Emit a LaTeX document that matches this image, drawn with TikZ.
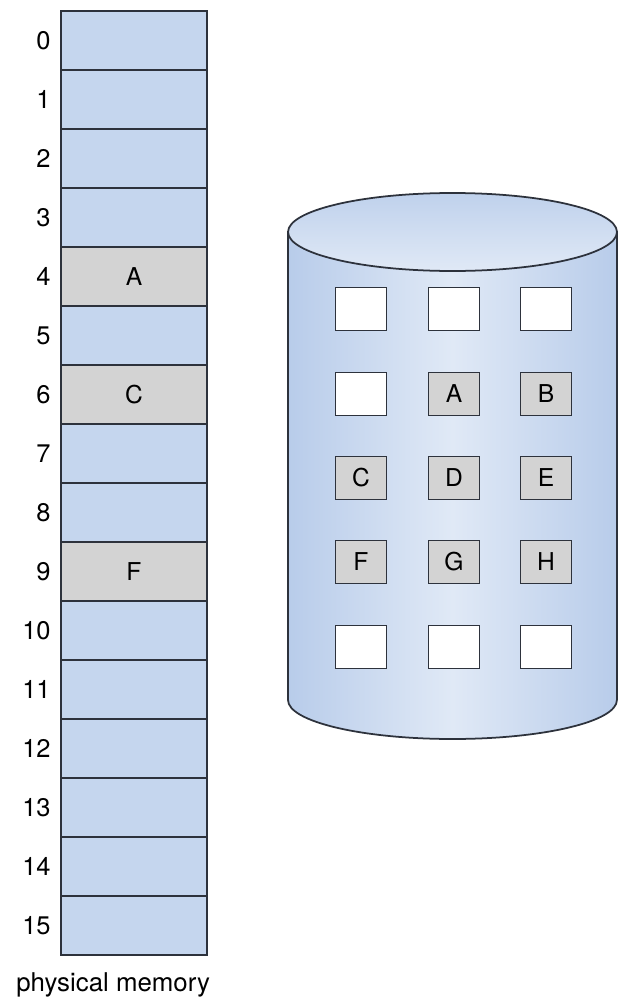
\documentclass[tikz,border=0pt]{standalone}
\usepackage{fontspec}
\setmainfont{TeX Gyre Heros}
\usepackage{xcolor}
\usepackage{tikz}
\usetikzlibrary{positioning}
\definecolor{memblue}{RGB}{197,214,238}
\definecolor{pagegray}{RGB}{211,211,211}
\definecolor{cyledge}{RGB}{184,204,234}
\definecolor{cylmid}{RGB}{224,233,246}
\definecolor{linegray}{RGB}{45,50,60}
\tikzset{
mem cell/.style = { rectangle, draw = linegray, line width = 1pt, fill = memblue, minimum width = 2.92cm, minimum height = 1.18cm, inner sep = 0pt, font = \fontsize{14}{16}\selectfont},
mem used/.style = { mem cell, fill = pagegray },
addr/.style = { anchor = east, inner sep = 0pt, font = \fontsize{14.5}{16}\selectfont },
disk page/.style = { rectangle, draw = linegray, line width = 1pt, fill = white, minimum width = 1.02cm, minimum height = 0.86cm, inner sep = 0pt, font = \fontsize{14}{16}\selectfont },
disk used/.style = { disk page, fill = pagegray },
}
\begin{document}
\begin{tikzpicture}[x = 0.02cm, y = -0.02cm]
      \useasboundingbox (0, 0) rectangle (624, 1007);
      % physical memory
      \node[mem cell] (m0)  at (134, 40.5) {};
      \node[mem cell] (m1)  at (134, 99.5) {};
      \node[mem cell] (m2)  at (134, 158.5) {};
      \node[mem cell] (m3)  at (134, 217.5) {};
      \node[mem used] (m4)  at (134, 276.5) {A};
      \node[mem cell] (m5)  at (134, 335.5) {};
      \node[mem used] (m6)  at (134, 394.5) {C};
      \node[mem cell] (m7)  at (134, 453.5) {};
      \node[mem cell] (m8)  at (134, 512.5) {};
      \node[mem used] (m9)  at (134, 571.5) {F};
      \node[mem cell] (m10) at (134, 630.5) {};
      \node[mem cell] (m11) at (134, 689.5) {};
      \node[mem cell] (m12) at (134, 748.5) {};
      \node[mem cell] (m13) at (134, 807.5) {};
      \node[mem cell] (m14) at (134, 866.5) {};
      \node[mem cell] (m15) at (134, 925.5) {};
      \node[addr] (a0)  at (51, 40.5) {0};
      \node[addr] (a1)  at (51, 99.5) {1};
      \node[addr] (a2)  at (51, 158.5) {2};
      \node[addr] (a3)  at (51, 217.5) {3};
      \node[addr] (a4)  at (51, 276.5) {4};
      \node[addr] (a5)  at (51, 335.5) {5};
      \node[addr] (a6)  at (51, 394.5) {6};
      \node[addr] (a7)  at (51, 453.5) {7};
      \node[addr] (a8)  at (51, 512.5) {8};
      \node[addr] (a9)  at (51, 571.5) {9};
      \node[addr] (a10) at (51, 630.5) {10};
      \node[addr] (a11) at (51, 689.5) {11};
      \node[addr] (a12) at (51, 748.5) {12};
      \node[addr] (a13) at (51, 807.5) {13};
      \node[addr] (a14) at (51, 866.5) {14};
      \node[addr] (a15) at (51, 925.5) {15};
      \node[anchor = west, inner sep = 0pt, font = \fontsize{14.7}{16}\selectfont] (memlabel) at (16, 985) {physical memory};
      % backing store
      \path[draw = linegray, line width = 1pt, left color = cyledge, right color = cyledge, middle color = cylmid, shading angle = 90]
        (288, 232) -- (288, 700) arc[start angle = 180, end angle = 360, x radius = 3.29cm, y radius = 0.78cm] -- (617, 232) -- cycle;
      \path[draw = linegray, line width = 1pt, top color = cyledge!90!white, bottom color = cylmid]
        (452.5, 232) ellipse[x radius = 3.29cm, y radius = 0.78cm];
      \node[disk page] (d1)  at (361, 309) {};
      \node[disk page] (d2)  at (454, 309) {};
      \node[disk page] (d3)  at (546, 309) {};
      \node[disk page] (d4)  at (361, 394) {};
      \node[disk used] (d5)  at (454, 394) {A};
      \node[disk used] (d6)  at (546, 394) {B};
      \node[disk used] (d7)  at (361, 478) {C};
      \node[disk used] (d8)  at (454, 478) {D};
      \node[disk used] (d9)  at (546, 478) {E};
      \node[disk used] (d10) at (361, 562) {F};
      \node[disk used] (d11) at (454, 562) {G};
      \node[disk used] (d12) at (546, 562) {H};
      \node[disk page] (d13) at (361, 647) {};
      \node[disk page] (d14) at (454, 647) {};
      \node[disk page] (d15) at (546, 647) {};
    \end{tikzpicture}
\end{document}
